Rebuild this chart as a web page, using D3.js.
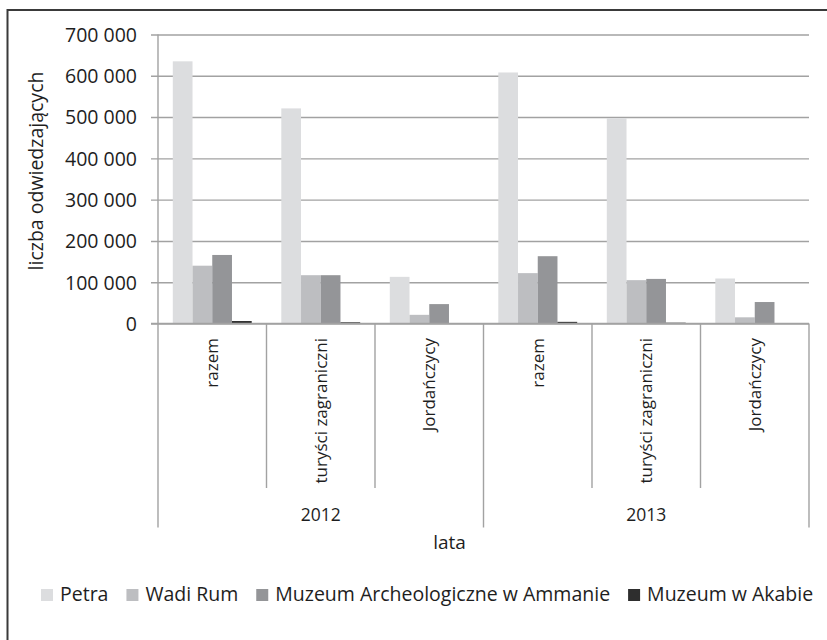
<!DOCTYPE html>
<html>
<head>
<meta charset="utf-8">
<script src="https://cdn.jsdelivr.net/npm/d3@7"></script>
<style>
  html, body { margin: 0; padding: 0; background: #fff; }
  svg { display: block; }
  text { font-family: "Open Sans", "DejaVu Sans", sans-serif; fill: #1e1e1e; }
</style>
</head>
<body>
<svg id="chart" width="827" height="640"></svg>
<script>
// Visitors to Jordan's attractions, by year and visitor group
const years = ["2012", "2013"];
const groups = ["razem", "turyści zagraniczni", "Jordańczycy"];
const seriesNames = ["Petra", "Wadi Rum", "Muzeum Archeologiczne w Ammanie", "Muzeum w Akabie"];
const seriesColors = ["#dcdddf", "#bdbec1", "#949598", "#2e2e2e"];

// one value per year × group (2012: razem, turyści, Jordańczycy; 2013: same)
const petra  = [635000, 521000, 113000, 608000, 497000, 109000];
const wadiRum = [140000, 117000, 21000, 122000, 105000, 15000];
const muzeumAmman = [166000, 117000, 47000, 163000, 108000, 52000];
const muzeumAkaba = [6000, 3000, 1000, 4000, 2000, 1000];
const seriesValues = [petra, wadiRum, muzeumAmman, muzeumAkaba];

const yTicks = [0, 100000, 200000, 300000, 400000, 500000, 600000, 700000];
const yTitle = "liczba odwiedzających";
const xTitle = "lata";

const fmt = v => d3.format(",")(v).replace(/,/g, " ");

const svg = d3.select("#chart");

const plotLeft = 158, plotRight = 809, plotTop = 34.5, plotBottom = 323.5;

const keys = [];
years.forEach(yr => groups.forEach(g => keys.push(yr + "|" + g)));

const x0 = d3.scaleBand().domain(keys).range([plotLeft, plotRight]).paddingInner(0).paddingOuter(0);
const x1 = d3.scaleBand().domain(seriesNames).range([0, x0.bandwidth()]).paddingInner(0).paddingOuter(0.75);
const xYear = d3.scaleBand().domain(years).range([plotLeft, plotRight]);
const y = d3.scaleLinear().domain([0, 700000]).range([plotBottom, plotTop]);

const gridColor = "#a2a2a2";

// outer frame
svg.append("rect")
  .attr("x", 7.5).attr("y", 10).attr("width", 840).attr("height", 650)
  .attr("fill", "none").attr("stroke", "#3a3a3a").attr("stroke-width", 2);

// gridlines with tick stubs and y labels
const yAxis = d3.axisLeft(y).tickValues(yTicks).tickSize(0).tickFormat(fmt);
const gy = svg.append("g").attr("transform", `translate(${plotLeft},0)`).call(yAxis);
gy.select(".domain").remove();
gy.selectAll(".tick line").attr("x1", -7).attr("x2", plotRight - plotLeft)
  .attr("stroke", gridColor).attr("stroke-width", 1.4);
gy.selectAll(".tick text").attr("font-size", 19.5).attr("fill", "#1e1e1e")
  .attr("x", 137 - plotLeft).attr("dy", "0.35em");

// vertical axis line
svg.append("line").attr("x1", plotLeft).attr("x2", plotLeft).attr("y1", plotTop).attr("y2", 527.5)
  .attr("stroke", gridColor).attr("stroke-width", 1.4);

// bars
seriesNames.forEach((name, si) => {
  svg.append("g").selectAll("rect")
    .data(seriesValues[si].map((v, i) => ({ key: keys[i], v })))
    .join("rect")
    .attr("x", d => x0(d.key) + x1(name))
    .attr("width", x1.bandwidth())
    .attr("y", d => y(d.v))
    .attr("height", d => y(0) - y(d.v))
    .attr("fill", seriesColors[si]);
});

// zero baseline
svg.append("line").attr("x1", plotLeft - 7).attr("x2", plotRight).attr("y1", y(0)).attr("y2", y(0))
  .attr("stroke", gridColor).attr("stroke-width", 1.4);

// category separators
keys.forEach((k, i) => {
  if (i === 0) return;
  const xx = x0(k);
  const outer = i % groups.length === 0;
  svg.append("line").attr("x1", xx).attr("x2", xx).attr("y1", y(0)).attr("y2", outer ? 527.5 : 488)
    .attr("stroke", gridColor).attr("stroke-width", 1.4);
});
svg.append("line").attr("x1", plotRight).attr("x2", plotRight).attr("y1", y(0)).attr("y2", 527.5)
  .attr("stroke", gridColor).attr("stroke-width", 1.4);

// rotated group labels
svg.append("g").selectAll("text").data(keys).join("text")
  .attr("transform", d => `translate(${x0(d) + x0.bandwidth() / 2},338) rotate(-90)`)
  .attr("text-anchor", "end").attr("dy", "0.35em").attr("font-size", 17)
  .text(d => d.split("|")[1]);

// year labels
svg.append("g").selectAll("text").data(years).join("text")
  .attr("x", d => xYear(d) + xYear.bandwidth() / 2).attr("y", 515).attr("dy", "0.35em")
  .attr("text-anchor", "middle").attr("font-size", 17.5)
  .text(d => d);

// axis titles
svg.append("text").attr("x", 449.5).attr("y", 542).attr("dy", "0.35em")
  .attr("text-anchor", "middle").attr("font-size", 19).text(xTitle);
svg.append("text").attr("transform", "translate(36.5,171) rotate(-90)").attr("dy", "0.35em")
  .attr("text-anchor", "middle").attr("font-size", 19.5).text(yTitle);

// legend
const legend = svg.append("g");
let lx = 41;
seriesNames.forEach((name, i) => {
  legend.append("rect").attr("x", lx).attr("y", 589).attr("width", 12).attr("height", 12)
    .attr("fill", seriesColors[i]);
  const t = legend.append("text").attr("x", lx + 19).attr("y", 601).attr("font-size", 19.5).text(name);
  lx += 19 + t.node().getComputedTextLength() + 18;
});
</script>
</body>
</html>
